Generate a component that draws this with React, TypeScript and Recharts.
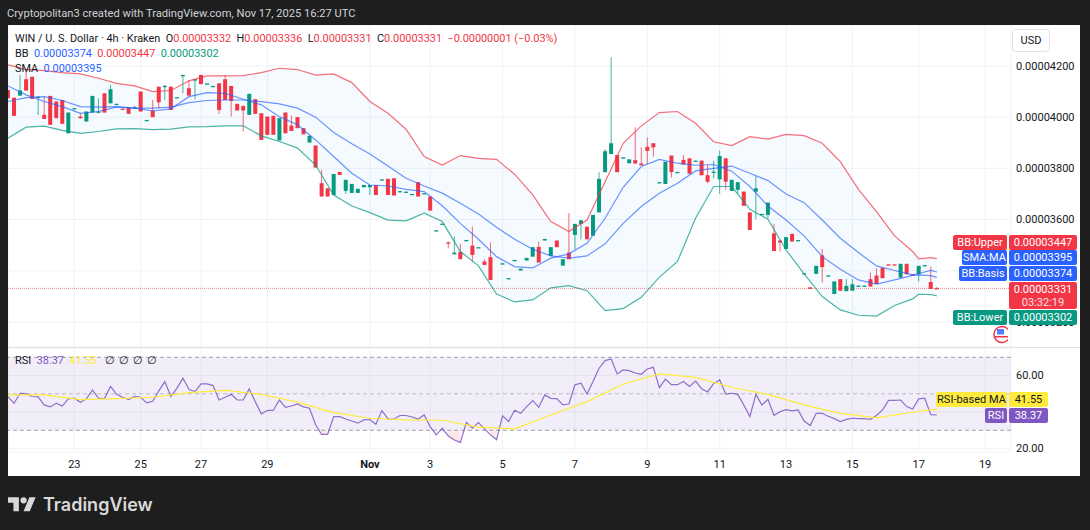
import React from "react";
import {
  ComposedChart,
  Bar,
  Line,
  Area,
  XAxis,
  YAxis,
  CartesianGrid,
  ReferenceLine,
  ReferenceArea,
} from "recharts";

// prices are in units of 0.00000001, index = 4h bar number
const opens = [
  4106, 4076, 4084, 4148, 4158, 4078, 4009, 4083, 4061, 4067, 3937, 4033, 4002, 3983, 4018, 4019, 4093, 4054, 4051, 4033,
  4039, 4036, 4100, 3988, 4026, 4119, 4119, 4119, 4077, 4163, 4113, 4145, 4165, 4131, 4121, 4132, 4148, 4122, 4052, 4044,
  4009, 4070, 4015, 4002, 4005, 3909, 4018, 3967, 4000, 3957, 3901, 3889, 3742, 3722, 3696, 3786, 3712, 3704, 3704, 3726,
  3726, 3735, 3756, 3759, 3761, 3710, 3708, 3699, 3746, 3702, 3690, 3557, 3583, 3511, 3464, 3473, 3519, 3498, 3491, 3436,
  3453, null, 3428, 3370, 3441, 3401, 3440, 3455, 3493, 3518, 3458, 3518, 3420, 3471, 3540, 3583, 3572, 3537, 3628, 3785,
  3856, 3852, 3842, 3820, 3832, 3819, 3884, 3898, 3745, 3739, 3850, 3785, 3833, 3839, 3829, 3830, 3773, 3785, 3757, 3839,
  3712, 3716, 3709, 3628, 3709, 3621, 3618, 3546, 3518, 3485, 3544, 3519, 3389, 3335, 3388, 3460, 3381, 3309, 3367, 3320,
  3322, 3341, 3341, 3367, 3381, 3411, 3425, 3425, 3373, 3427, 3386, 3386, 3421, 3356, 3332,
];
const highs = [
  4106, 4076, 4165, 4178, 4158, 4080, 4080, 4083, 4061, 4067, 4018, 4035, 4015, 4022, 4083, 4074, 4093, 4126, 4052, 4033,
  4039, 4044, 4100, 3989, 4067, 4119, 4126, 4119, 4078, 4165, 4145, 4148, 4165, 4132, 4122, 4132, 4165, 4122, 4052, 4044,
  4091, 4070, 4015, 4002, 4005, 3996, 4018, 4006, 4000, 3957, 3927, 3889, 3794, 3722, 3778, 3786, 3755, 3739, 3720, 3735,
  3735, 3735, 3757, 3759, 3761, 3711, 3709, 3700, 3746, 3703, 3690, 3558, 3584, 3514, 3533, 3505, 3520, 3572, 3492, 3445,
  3511, null, 3429, 3371, 3442, 3408, 3450, 3492, 3514, 3524, 3492, 3518, 3445, 3625, 3583, 3597, 3572, 3618, 3785, 3875,
  4234, 3852, 3843, 3835, 3960, 3882, 3921, 3898, 3746, 3826, 3850, 3786, 3852, 3839, 3830, 3830, 3813, 3830, 3869, 3839,
  3755, 3746, 3709, 3628, 3770, 3622, 3666, 3583, 3518, 3531, 3544, 3520, 3390, 3335, 3419, 3485, 3382, 3358, 3367, 3367,
  3367, 3342, 3342, 3393, 3410, 3411, 3425, 3425, 3427, 3427, 3386, 3419, 3422, 3416, 3336,
];
const lows = [
  4074, 4005, 4084, 4104, 4071, 4009, 3993, 3970, 3996, 3974, 3937, 4033, 3993, 3983, 4018, 4015, 4018, 4054, 4051, 4032,
  4013, 4031, 4022, 3988, 4000, 4035, 4067, 4028, 4077, 4094, 4084, 4070, 4129, 4131, 4121, 4013, 4067, 4002, 4026, 3944,
  4009, 4013, 3911, 3931, 3931, 3909, 3937, 3946, 3957, 3933, 3901, 3803, 3690, 3690, 3696, 3774, 3700, 3704, 3704, 3726,
  3696, 3696, 3756, 3696, 3694, 3710, 3708, 3699, 3690, 3702, 3635, 3557, 3583, 3488, 3464, 3445, 3519, 3436, 3491, 3423,
  3364, null, 3428, 3370, 3441, 3401, 3440, 3455, 3432, 3518, 3458, 3492, 3420, 3445, 3484, 3523, 3523, 3537, 3628, 3785,
  3856, 3785, 3842, 3820, 3819, 3812, 3817, 3846, 3745, 3739, 3764, 3785, 3815, 3779, 3829, 3773, 3742, 3761, 3700, 3716,
  3712, 3703, 3654, 3559, 3601, 3621, 3605, 3477, 3475, 3485, 3514, 3519, 3389, 3329, 3388, 3354, 3381, 3309, 3322, 3320,
  3322, 3341, 3341, 3338, 3348, 3371, 3424, 3424, 3373, 3386, 3380, 3358, 3421, 3329, 3331,
];
const closes = [
  4074, 4005, 4104, 4104, 4071, 4080, 3993, 3970, 3996, 3974, 4018, 4035, 3996, 4022, 4083, 4022, 4018, 4109, 4052, 4032,
  4013, 4039, 4022, 3989, 4000, 4058, 4122, 4028, 4078, 4165, 4084, 4148, 4129, 4132, 4122, 4028, 4067, 4063, 4026, 4026,
  4091, 4013, 3911, 3931, 3931, 3996, 3937, 3946, 3957, 3933, 3927, 3803, 3690, 3690, 3778, 3774, 3755, 3739, 3720, 3735,
  3735, 3696, 3757, 3696, 3694, 3711, 3709, 3700, 3690, 3703, 3635, 3558, 3584, 3510, 3471, 3445, 3520, 3462, 3492, 3423,
  3364, null, 3429, 3371, 3442, 3408, 3450, 3492, 3432, 3524, 3492, 3492, 3445, 3445, 3583, 3597, 3523, 3618, 3759, 3867,
  3898, 3785, 3843, 3835, 3819, 3812, 3868, 3882, 3746, 3826, 3785, 3786, 3815, 3779, 3830, 3773, 3748, 3787, 3848, 3748,
  3755, 3746, 3654, 3559, 3722, 3622, 3666, 3477, 3510, 3531, 3514, 3520, 3390, 3329, 3419, 3414, 3382, 3358, 3322, 3341,
  3347, 3342, 3342, 3338, 3348, 3371, 3424, 3424, 3427, 3386, 3380, 3419, 3422, 3329, 3331,
];

const bandBars = [
  0, 3, 6, 9, 12, 15, 18, 21, 24, 27, 30, 33, 36, 39, 42, 45, 48, 51, 54, 57, 60, 63, 66, 69, 72, 75, 78, 81, 84, 87, 90,
  93, 96, 99, 102, 105, 108, 111, 114, 117, 120, 123, 126, 129, 132, 135, 138, 141, 144, 147, 150, 151, 153, 154,
];
const bbUpper = [
  4204, 4187, 4182, 4174, 4169, 4152, 4132, 4122, 4100, 4104, 4142, 4161, 4161, 4162, 4174, 4191, 4186, 4164, 4169, 4135,
  4061, 4015, 3953, 3846, 3813, 3850, 3839, 3835, 3777, 3696, 3592, 3553, 3598, 3748, 3898, 3966, 4018, 4022, 3976, 3904,
  3889, 3924, 3914, 3933, 3928, 3898, 3826, 3718, 3631, 3536, 3475, 3446, 3451, 3447,
];
const bbBasis = [
  4122, 4087, 4061, 4041, 4015, 4022, 4039, 4035, 4024, 4032, 4080, 4096, 4093, 4070, 4048, 4002, 3970, 3911, 3846, 3781,
  3735, 3731, 3718, 3709, 3654, 3585, 3523, 3455, 3416, 3411, 3449, 3466, 3507, 3605, 3726, 3807, 3835, 3820, 3812, 3815,
  3789, 3729, 3653, 3598, 3536, 3455, 3406, 3364, 3348, 3364, 3382, 3384, 3381, 3374,
];
const bbLower = [
  3918, 3961, 3965, 3948, 3937, 3944, 3954, 3955, 3951, 3953, 3962, 3963, 3966, 3966, 3927, 3905, 3879, 3813, 3696, 3653,
  3627, 3598, 3595, 3625, 3592, 3475, 3419, 3309, 3278, 3286, 3333, 3342, 3322, 3244, 3252, 3296, 3375, 3436, 3605, 3729,
  3729, 3640, 3601, 3481, 3388, 3299, 3247, 3226, 3223, 3264, 3290, 3308, 3307, 3302,
];
const sma = [
  4061, 4076, 4080, 4065, 4041, 4039, 4041, 4035, 4035, 4039, 4057, 4065, 4067, 4067, 4061, 4052, 4035, 4000, 3940, 3896,
  3856, 3809, 3761, 3731, 3703, 3664, 3622, 3570, 3523, 3484, 3458, 3449, 3458, 3505, 3585, 3651, 3703, 3742, 3790, 3800,
  3809, 3781, 3752, 3700, 3666, 3598, 3527, 3471, 3419, 3401, 3384, 3389, 3401, 3395,
];

const rsi = [
  48.5, 44.8, 50.3, 50.1, 48.5, 48.3, 43.9, 42.8, 44.8, 43.3, 47.2, 47.6, 45.4, 47.2, 52.1, 47.6, 47.4, 54.0, 49.7, 48.1,
  46.8, 48.6, 48.1, 45.0, 45.9, 51.6, 56.7, 48.5, 53.0, 58.5, 52.5, 51.2, 55.4, 55.4, 54.5, 46.6, 48.1, 49.7, 46.6, 46.6,
  52.7, 45.7, 39.0, 40.8, 41.0, 46.6, 42.6, 43.3, 44.4, 42.8, 42.1, 33.0, 27.8, 27.8, 37.5, 37.5, 36.2, 35.1, 33.9, 35.7,
  35.9, 33.3, 40.8, 36.2, 36.2, 38.1, 38.1, 37.3, 36.2, 38.4, 32.0, 27.5, 31.1, 26.9, 24.7, 23.4, 34.4, 31.1, 34.2, 30.8,
  27.5, 24.9, 37.9, 34.8, 41.0, 39.3, 43.0, 46.3, 42.6, 49.4, 47.5, 47.4, 43.9, 44.4, 54.9, 55.8, 49.9, 56.7, 64.0, 68.2,
  69.1, 60.9, 63.1, 62.7, 61.4, 60.7, 63.6, 64.5, 53.4, 58.0, 55.0, 55.0, 56.7, 54.0, 57.0, 52.8, 51.0, 55.6, 57.6, 49.9,
  50.3, 49.7, 43.9, 37.5, 49.7, 43.9, 47.0, 38.2, 40.2, 41.3, 40.6, 41.2, 35.1, 32.6, 39.3, 39.3, 37.7, 36.4, 34.8, 36.0,
  36.6, 36.4, 36.4, 36.0, 38.1, 41.2, 46.4, 46.4, 46.6, 43.0, 41.7, 47.2, 47.6, 38.6, 38.37,
];
const maBars = [0, 6, 12, 18, 24, 30, 36, 42, 48, 54, 60, 66, 72, 78, 84, 90, 96, 102, 108, 114, 120, 126, 132, 138, 144, 150, 154];
const rsiMa = [
  49.4, 49.4, 46.8, 47.4, 48.1, 50.6, 51.9, 49.7, 45.4, 39.7, 36.6, 35.7, 35.5, 31.7, 30.8, 38.4, 45.7, 55.4, 60.9, 59.0,
  53.6, 49.7, 43.9, 39.3, 36.8, 39.9, 41.55,
];

const priceTicks = [3200, 3400, 3600, 3800, 4000, 4200];
const rsiTicks = [20, 40, 60];
const dateTicks = [11, 22, 32, 43, 60, 70, 82, 94, 106, 118, 129, 140, 151, 162];
const dateLabels = ["23", "25", "27", "29", "Nov", "3", "5", "7", "9", "11", "13", "15", "17", "19"];

const rows: any[] = opens.map((o, i) => ({
  i,
  o,
  h: highs[i],
  l: lows[i],
  c: closes[i],
  rsi: rsi[i],
  oversold: rsi[i] < 30 ? [rsi[i], 30] : null,
}));
bandBars.forEach((b, k) => {
  rows[b].upper = bbUpper[k];
  rows[b].basis = bbBasis[k];
  rows[b].lower = bbLower[k];
  rows[b].sma = sma[k];
  rows[b].band = [bbLower[k], bbUpper[k]];
});
maBars.forEach((b, k) => {
  rows[b].rsiMa = rsiMa[k];
});

const UP = "#089981";
const DOWN = "#f23645";
const BLUE = "#2962ff";
const PURPLE = "#7e57c2";
const YELLOW = "#ffeb3b";
const GRID = "#f1f2f5";
const FONT = "Roboto, Arial, sans-serif";
const xDomain: [number, number] = [0, 166.3];

// the tags sit on top of these two labels, so they stay blank
const fmtPrice = (v: number) => (v === 3400 ? "" : (v / 1e8).toFixed(8));
const fmtRsi = (v: number) => (v === 40 ? "" : v.toFixed(2));

const Candle = (props: any) => {
  const { x, y, width, height, payload } = props;
  if (!payload || payload.o == null || !height) return null;
  const { o, h, l, c } = payload;
  const pxPerUnit = height / (h - l);
  const color = c >= o ? UP : DOWN;
  const bodyTop = y + (h - Math.max(o, c)) * pxPerUnit;
  const bodyH = Math.max(Math.abs(o - c) * pxPerUnit, 1.3);
  const mid = x + width / 2;
  return (
    <g>
      <line x1={mid} x2={mid} y1={y} y2={y + height} stroke={color} strokeOpacity={0.75} />
      <rect x={x} y={bodyTop} width={width} height={bodyH} fill={color} />
    </g>
  );
};

const DateTick = (props: any) => {
  const { x, y, payload } = props;
  const label = dateLabels[dateTicks.indexOf(payload.value)];
  const isMonth = label === "Nov";
  return (
    <text x={x} y={y + 8} textAnchor="middle" fontSize={11} fontFamily={FONT} fontWeight={isMonth ? 700 : 400} fill="#131722">
      {label}
    </text>
  );
};

const box = (left: number, top: number, width: number, height: number, bg: string, color = "#fff"): React.CSSProperties => ({
  position: "absolute",
  left,
  top,
  width,
  height,
  background: bg,
  color,
  fontFamily: FONT,
  fontSize: 11,
  lineHeight: `${height}px`,
  textAlign: "center",
  borderRadius: 2,
  whiteSpace: "nowrap",
});

const Tag = ({ label, value, top, left, color, right = 1077, text = "#fff" }: any) => (
  <>
    <div style={box(left, top, 1007 - left, 15, color, text)}>{label}</div>
    <div style={box(1009, top, right - 1009, 15, color, text)}>{value}</div>
  </>
);

const Txt = ({ x, y, color = "#131722", children, size = 10.9 }: any) => (
  <div
    style={{
      position: "absolute",
      left: x,
      top: y,
      color,
      fontFamily: FONT,
      fontSize: size,
      lineHeight: "14px",
      whiteSpace: "pre",
    }}
  >
    {children}
  </div>
);

export default function App() {
  return (
    <div style={{ position: "absolute", left: 0, top: 0, width: 1090, height: 530, background: "#1e1e1e", overflow: "hidden" }}>
      <Txt x={7} y={7} color="#cfd2d8" size={11.15}>
        Cryptopolitan3 created with TradingView.com, Nov 17, 2025 16:27 UTC
      </Txt>
      <div style={{ position: "absolute", left: 8, top: 25, width: 1072, height: 451, background: "#fff" }} />

      <div style={{ position: "absolute", left: 8, top: 25 }}>
        <ComposedChart width={1072} height={322} data={rows} margin={{ top: 0, right: 0, bottom: 0, left: 0 }}>
          <CartesianGrid stroke={GRID} />
          <XAxis dataKey="i" type="number" domain={xDomain} ticks={dateTicks} allowDataOverflow hide />
          <YAxis
            orientation="right"
            width={69}
            domain={[3102, 4360]}
            ticks={priceTicks}
            allowDataOverflow
            axisLine={false}
            tickLine={false}
            tickSize={0}
            tickMargin={5}
            tickFormatter={fmtPrice}
            tick={{ fontSize: 11, fontFamily: FONT, fill: "#131722" }}
          />
          <Area dataKey="band" stroke="none" fill="#2196f3" fillOpacity={0.05} connectNulls dot={false} activeDot={false} isAnimationActive={false} />
          <ReferenceLine y={3331} stroke={DOWN} strokeOpacity={0.6} strokeDasharray="1 1" />
          <Line dataKey="upper" stroke={DOWN} strokeOpacity={0.72} strokeWidth={1.2} connectNulls dot={false} isAnimationActive={false} />
          <Line dataKey="lower" stroke={UP} strokeOpacity={0.72} strokeWidth={1.2} connectNulls dot={false} isAnimationActive={false} />
          <Line dataKey="basis" stroke={BLUE} strokeOpacity={0.68} strokeWidth={1.2} connectNulls dot={false} isAnimationActive={false} />
          <Line dataKey="sma" stroke={BLUE} strokeOpacity={0.68} strokeWidth={1.2} connectNulls dot={false} isAnimationActive={false} />
          <Bar
            dataKey={(r: any) => (r.o == null ? null : [r.l, r.h])}
            barSize={4}
            shape={<Candle />}
            isAnimationActive={false}
          />
        </ComposedChart>
      </div>

      <div style={{ position: "absolute", left: 8, top: 347, width: 1072, height: 1, background: "#e0e3eb" }} />

      <div style={{ position: "absolute", left: 8, top: 348 }}>
        <ComposedChart width={1072} height={128} data={rows} margin={{ top: 0, right: 0, bottom: 0, left: 0 }}>
          <CartesianGrid stroke={GRID} />
          <XAxis
            dataKey="i"
            type="number"
            domain={xDomain}
            ticks={dateTicks}
            interval={0}
            allowDataOverflow
            height={24}
            axisLine={false}
            tickLine={false}
            tick={<DateTick />}
          />
          <YAxis
            orientation="right"
            width={69}
            domain={[18.1, 75.1]}
            ticks={rsiTicks}
            allowDataOverflow
            axisLine={false}
            tickLine={false}
            tickSize={0}
            tickMargin={5}
            tickFormatter={fmtRsi}
            tick={{ fontSize: 11, fontFamily: FONT, fill: "#131722" }}
          />
          <ReferenceArea y1={30} y2={70} fill={PURPLE} fillOpacity={0.1} stroke="none" />
          <ReferenceLine y={70} stroke="#787b86" strokeOpacity={0.7} strokeDasharray="4 3" />
          <ReferenceLine y={50} stroke="#787b86" strokeOpacity={0.45} strokeDasharray="4 3" />
          <ReferenceLine y={30} stroke="#787b86" strokeOpacity={0.7} strokeDasharray="4 3" />
          <Area dataKey="oversold" stroke="none" fill={DOWN} fillOpacity={0.12} dot={false} activeDot={false} isAnimationActive={false} />
          <Line dataKey="rsi" stroke={PURPLE} strokeWidth={1.2} strokeOpacity={0.85} dot={false} isAnimationActive={false} />
          <Line dataKey="rsiMa" stroke={YELLOW} strokeWidth={1.2} connectNulls dot={false} isAnimationActive={false} />
        </ComposedChart>
      </div>

      {/* legend overlays */}
      <Txt x={15} y={32}>
        {"WIN / U. S. Dollar · 4h · Kraken  O"}
        <span style={{ color: DOWN }}>0.00003332</span>
        {"  H"}
        <span style={{ color: DOWN }}>0.00003336</span>
        {"  L"}
        <span style={{ color: DOWN }}>0.00003331</span>
        {"  C"}
        <span style={{ color: DOWN }}>0.00003331  −0.00000001 (−0.03%)</span>
      </Txt>
      <Txt x={15} y={47}>
        {"BB  "}
        <span style={{ color: BLUE }}>0.00003374</span>
        {"  "}
        <span style={{ color: DOWN }}>0.00003447</span>
        {"  "}
        <span style={{ color: UP }}>0.00003302</span>
      </Txt>
      <Txt x={15} y={62}>
        {"SMA  "}
        <span style={{ color: BLUE }}>0.00003395</span>
      </Txt>
      <Txt x={15} y={354}>
        {"RSI  "}
        <span style={{ color: PURPLE }}>38.37</span>
        {"  "}
        <span style={{ color: YELLOW }}>41.55</span>
      </Txt>
      <Txt x={105} y={354}>∅</Txt>
      <Txt x={119} y={354}>∅</Txt>
      <Txt x={133} y={354}>∅</Txt>
      <Txt x={147} y={354}>∅</Txt>

      {/* USD button */}
      <div
        style={{
          position: "absolute",
          left: 1012,
          top: 29,
          width: 36,
          height: 21,
          border: "1px solid #e0e3eb",
          borderRadius: 4,
          fontFamily: FONT,
          fontSize: 11,
          lineHeight: "21px",
          textAlign: "center",
          color: "#131722",
        }}
      >
        USD
      </div>

      {/* price tags */}
      <Tag label="BB:Upper" value="0.00003447" top={235} left={953} color={DOWN} />
      <Tag label="SMA:MA" value="0.00003395" top={250} left={962} color={BLUE} />
      <Tag label="BB:Basis" value="0.00003374" top={266} left={959} color={BLUE} />
      <div style={{ ...box(1009, 282, 68, 27, DOWN), lineHeight: "13px", paddingTop: 1, height: 26 }}>
        0.00003331
        <br />
        <span style={{ opacity: 0.85 }}>03:32:19</span>
      </div>
      <Tag label="BB:Lower" value="0.00003302" top={310} left={953} color={UP} />

      {/* flag badge */}
      <svg style={{ position: "absolute", left: 992, top: 325 }} width={16} height={19} viewBox="0 0 16 19">
        <circle cx={10} cy={9.5} r={8} fill="#fff" stroke={DOWN} strokeWidth={1.5} />
        <rect x={5} y={4} width={7} height={5.5} fill={BLUE} opacity={0.8} />
        <rect x={3} y={11} width={13} height={1.5} fill={DOWN} />
      </svg>

      {/* rsi tags */}
      <Tag label="RSI-based MA" value="41.55" top={392} left={936} right={1048} color={YELLOW} text="#131722" />
      <Tag label="RSI" value="38.37" top={408} left={985} right={1048} color={PURPLE} />

      {/* footer logo */}
      <svg style={{ position: "absolute", left: 8, top: 494 }} width={28} height={22} viewBox="0 0 36 28" fill="#d9d9d9">
        <path d="M14 22H7V11H0V4h14v18zM28 22h-8l7.5-18h8L28 22z" />
        <circle cx={20} cy={8} r={4} />
      </svg>
      <div
        style={{
          position: "absolute",
          left: 43,
          top: 492,
          color: "#d9d9d9",
          fontFamily: "Inter, Roboto, sans-serif",
          fontWeight: 600,
          fontSize: 18,
          lineHeight: "26px",
        }}
      >
        TradingView
      </div>
    </div>
  );
}
